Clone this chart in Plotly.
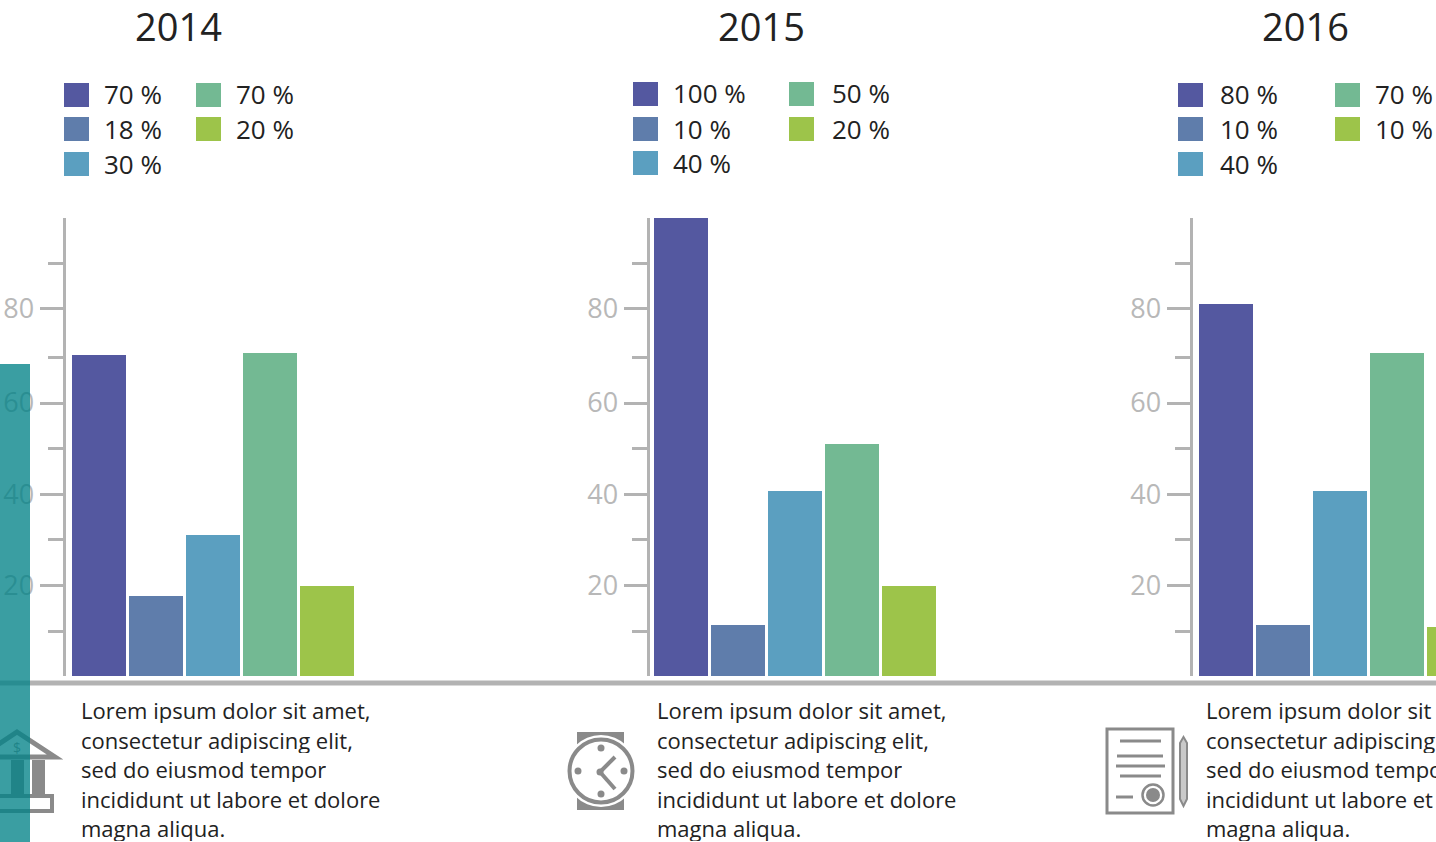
import plotly.graph_objects as go

years = ["2014", "2015", "2016"]
categories = ["A", "B", "C", "D", "E"]
values_2014 = [70.1, 17.5, 30.8, 70.5, 19.7]
values_2015 = [100, 11.1, 40.4, 50.7, 19.7]
values_2016 = [81.2, 11.1, 40.4, 70.5, 10.7]
labels_2014 = ["70 %", "18 %", "30 %", "70 %", "20 %"]
labels_2015 = ["100 %", "10 %", "40 %", "50 %", "20 %"]
labels_2016 = ["80 %", "10 %", "40 %", "70 %", "10 %"]
major_ticks = [19.7, 39.6, 59.6, 80.3]
major_labels = ["20", "40", "60", "80"]
minor_ticks = [9.8, 29.7, 49.6, 69.5, 90]
body_lines = ["Lorem ipsum dolor sit amet,", "consectetur adipiscing elit,", "sed do eiusmod tempor",
              "incididunt ut labore et dolore", "magna aliqua."]
colors = ["#5458a0", "#5f7dab", "#5b9fc0", "#73b993", "#9dc44a"]

W, H = 1436, 842
FONT = "Open Sans"
GREY = "#b3b3b3"
ICON = "#8a8a8a"
TEXT = "#222222"


def px(x):
    return x / W


def py(y):
    return 1 - y / H


panels = [
    dict(year=0, vals=values_2014, labs=labels_2014, axis=64, first=98.5, title=178, body=80,
         lx=[64, 196], tx=[103, 235], ly=[95, 129, 164]),
    dict(year=1, vals=values_2015, labs=labels_2015, axis=648, first=680.5, title=761, body=656,
         lx=[633, 789], tx=[672, 831], ly=[94, 129, 163]),
    dict(year=2, vals=values_2016, labs=labels_2016, axis=1191, first=1225.5, title=1305, body=1205,
         lx=[1178, 1335], tx=[1219, 1374], ly=[95, 129, 164]),
]
PITCH = 57
fig = go.Figure()
shapes, annotations = [], []
layout = {}


def rect(x0, y0, x1, y1, fill=None, line=None, lw=0, **kw):
    d = dict(type="rect", xref="paper", yref="paper", x0=px(x0), x1=px(x1), y0=py(y1), y1=py(y0),
             fillcolor=fill or "rgba(0,0,0,0)", line=dict(color=line or "rgba(0,0,0,0)", width=lw), layer="above")
    d.update(kw)
    shapes.append(d)


def seg(x0, y0, x1, y1, color=ICON, lw=3):
    shapes.append(dict(type="line", xref="paper", yref="paper", x0=px(x0), x1=px(x1), y0=py(y0), y1=py(y1),
                       line=dict(color=color, width=lw), layer="above"))


def circ(cx, cy, r, fill=None, line=None, lw=0):
    shapes.append(dict(type="circle", xref="paper", yref="paper", x0=px(cx - r), x1=px(cx + r), y0=py(cy + r),
                       y1=py(cy - r), fillcolor=fill or "rgba(0,0,0,0)",
                       line=dict(color=line or "rgba(0,0,0,0)", width=lw), layer="above"))


def poly(points, fill=None, line=None, lw=0):
    path = "M " + " L ".join(f"{px(x):.5f},{py(y):.5f}" for x, y in points) + " Z"
    shapes.append(dict(type="path", xref="paper", yref="paper", path=path, fillcolor=fill or "rgba(0,0,0,0)",
                       line=dict(color=line or "rgba(0,0,0,0)", width=lw), layer="above"))


def text(x, y, s, size, color=TEXT, anchor="left", height=None):
    a = dict(xref="paper", yref="paper", x=px(x), y=py(y), text=s, showarrow=False, xanchor=anchor,
             yanchor="middle", font=dict(family=FONT, size=size, color=color), align=anchor, borderpad=0)
    if height:
        a["height"] = height
    annotations.append(a)


for i, p in enumerate(panels):
    sfx = "" if i == 0 else str(i + 1)
    left = p["axis"] + 1.5
    right = min(p["axis"] + 330, W)
    fig.add_trace(go.Bar(x=list(range(len(categories))), y=p["vals"], marker=dict(color=colors, line=dict(width=0)),
                         width=54 / PITCH, xaxis="x" + sfx, yaxis="y" + sfx, showlegend=False,
                         name=years[p["year"]], customdata=categories))
    layout["xaxis" + sfx] = dict(domain=[px(left), px(right)], visible=False, fixedrange=True,
                                 range=[(left - p["first"]) / PITCH, (right - p["first"]) / PITCH],
                                 anchor="y" + sfx)
    layout["yaxis" + sfx] = dict(domain=[py(676), py(218)], range=[0, 100], anchor="x" + sfx, showgrid=False,
                                 zeroline=False, showline=True, linecolor=GREY, linewidth=3,
                                 tickmode="array", tickvals=major_ticks, ticktext=major_labels, ticks="outside",
                                 ticklen=23, tickwidth=3, fixedrange=True,
                                 tickcolor=GREY, tickfont=dict(family=FONT, size=27, color="#b8b8b8"),
                                 minor=dict(tickmode="array", tickvals=minor_ticks, ticks="outside", ticklen=15,
                                            tickwidth=3, tickcolor=GREY, showgrid=False))
    text(p["title"], 26, years[p["year"]], 38, anchor="center")
    order = [(0, 0), (0, 1), (0, 2), (1, 0), (1, 1)]
    for k, (col, row) in enumerate(order):
        cy = p["ly"][row]
        rect(p["lx"][col], cy - 12, p["lx"][col] + 25, cy + 12, fill=colors[k])
        text(p["tx"][col], cy - 0.5, p["labs"][k], 26)
    for j, line in enumerate(body_lines):
        text(p["body"], 710 + j * 29.5, line, 22, height=26)

# baseline rule
seg(0, 683, W, 683, color="#b3b3b3", lw=5)

# bank icon
poly([(17, 732), (55, 757), (-21, 757)], line=ICON, lw=5)
rect(32, 760, 45, 795, fill=ICON)
rect(11, 760, 24, 795, fill=ICON)
rect(-19, 796, 52, 811, fill="#ffffff", line=ICON, lw=4)
shapes.append(dict(type="rect", xref="paper", yref="paper", x0=px(8), x1=px(26), y0=py(757), y1=py(739),
                   line=dict(width=0), fillcolor="rgba(0,0,0,0)", layer="above",
                   label=dict(text="$", font=dict(family=FONT, size=14, color=ICON), textposition="middle center")))

# clock icon
rect(577, 732, 624, 810, fill=ICON)
circ(601, 771, 36, fill="#ffffff")
circ(601, 771, 31.5, fill="#ffffff", line=ICON, lw=4)
for dx, dy in [(0, -23), (0, 23), (-23, 0), (23, 0)]:
    circ(601 + dx, 771 + dy, 3.5, fill=ICON)
seg(600, 772, 615, 757, lw=4)
seg(600, 772, 615, 789, lw=4)
circ(600, 772, 3.5, fill=ICON)

# document icon
rect(1107, 729, 1173, 813, fill="#ffffff", line=ICON, lw=3)
for x0, x1, y in [(1120, 1161, 741), (1117, 1163, 756), (1116, 1165, 766), (1120, 1161, 776), (1116, 1133, 797)]:
    seg(x0, y, x1, y, lw=3)
circ(1153, 795, 10.5, fill="#ffffff", line=ICON, lw=2.5)
circ(1153, 795, 7, fill=ICON)
poly([(1183.5, 737), (1187, 743), (1187, 799), (1183.5, 806), (1180, 799), (1180, 743)], fill="#c9c9c9", line=ICON, lw=2)

# teal overlay band
rect(0, 364, 30, H, fill="rgba(2,131,136,0.78)")

fig.update_layout(width=W, height=H, margin=dict(l=0, r=0, t=0, b=0, pad=0), paper_bgcolor="#ffffff",
                  plot_bgcolor="rgba(0,0,0,0)", showlegend=False, bargap=0, shapes=shapes, annotations=annotations,
                  **layout)
fig.write_html("out.html", config=dict(displayModeBar=False),
               post_script="document.body.style.margin='0';document.body.style.overflow='hidden';")
